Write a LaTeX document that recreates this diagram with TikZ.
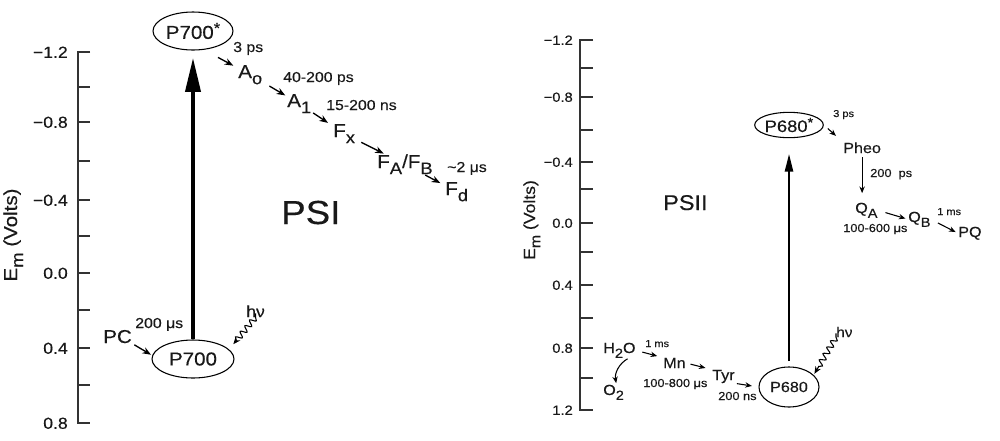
\documentclass[tikz,border=0pt]{standalone}
\usepackage{fontspec}
\setmainfont{Liberation Sans}[FakeStretch=1.1,FakeBold=0.3]
\usetikzlibrary{arrows.meta,shapes.geometric,decorations.pathmorphing}
\newcommand\dn[1]{\raisebox{-0.33em}{\scalebox{0.9}{#1}}}
\newcommand\upst{\raisebox{0.3em}{\scalebox{0.8}{*}}}
\begin{document}
\begin{tikzpicture}[x=0.75pt,y=-0.75pt,
  every node/.style={inner sep=0pt, text=black!90},
  ax/.style={line width=0.9pt, black!80},
  tl/.style={anchor=base east, font=\fontsize{12}{14}\selectfont},
  tr/.style={anchor=base east, font=\fontsize{10}{12}\selectfont},
  L/.style={anchor=base west, font=\fontsize{14}{16}\selectfont},
  Ls/.style={anchor=base west, font=\fontsize{10.8}{13}\selectfont},
  R/.style={anchor=base west, font=\fontsize{11}{13}\selectfont},
  Rs/.style={anchor=base west, font=\fontsize{8.7}{10}\selectfont},
  Rt/.style={anchor=base west, font=\fontsize{7.5}{9}\selectfont},
  ell/.style={draw, ellipse, line width=0.8pt},
  arL/.style={-{Stealth[length=6.5pt,width=5pt]}, line width=1pt},
  arR/.style={-{Stealth[length=5pt,width=4pt]}, line width=0.8pt},
  wavy/.style={-{Stealth[length=5.5pt,width=4.5pt]}, line width=0.8pt, decorate,
    decoration={snake, amplitude=2.2pt, segment length=5.5pt, post length=6pt}}
]
\fill[white] (0,0) rectangle (1000,440);
\useasboundingbox (0,0) rectangle (1000,440);

% ---------- left axis ----------
\draw[ax] (90,52) -- (78,52) -- (78,423) -- (90,423);
\foreach \y in {87,122,161,200,236,273,310,348,385} \draw[ax] (78,\y) -- (90,\y);
\foreach \v/\y/\n in {−1.2/52/a, −0.8/122/b, −0.4/200/c, 0.0/273/d, 0.4/348/e, 0.8/423/f}
  \node[tl] (ltick\n) at (68,\y+5.8) {\v};
\node[rotate=90, anchor=base, font=\fontsize{14}{16}\selectfont] (ylabL) at (17,235) {E\dn{m} (Volts)};

% ---------- PSI ----------
\node[ell, minimum width=60pt, minimum height=28.5pt, font=\fontsize{14}{16}\selectfont] (p700s) at (193,31) {P700\upst};
\node[ell, minimum width=61.5pt, minimum height=28.5pt, font=\fontsize{14}{16}\selectfont] (p700) at (193,359) {P700};
\draw[line width=3.5pt, -{Triangle[length=26pt,width=11pt]}, shorten >=5pt] (p700.north) -- (p700s.south);

\node[Ls] (l1) at (233,52) {3 ps};
\node[L] (a0) at (238,78) {A\dn{o}};
\node[Ls] (l2) at (283,82) {40-200 ps};
\node[L] (a1) at (287,107) {A\dn{1}};
\node[Ls] (l3) at (326,110) {15-200 ns};
\node[L] (fx) at (333,137) {F\dn{x}};
\node[L] (fab) at (377,168) {F\dn{A}/F\dn{B}};
\node[Ls] (l4) at (447,172) {\textasciitilde2 μs};
\node[L] (fd) at (445,195) {F\dn{d}};
\node[L] (pc) at (103,343) {PC};
\node[Ls] (l5) at (135,328) {200 μs};
\node[anchor=base west, font=\fontsize{12}{14}\selectfont] (hv1) at (246,317) {hν};
\node[anchor=base west, font=\fontsize{25}{30}\selectfont] (psi) at (281,224) {PSI};

\draw[arL, shorten <=12pt, shorten >=4pt] (p700s.-60) -- (a0);
\draw[arL, shorten <=6pt, shorten >=1.5pt] (a0) -- (a1);
\draw[arL, shorten <=1.5pt, shorten >=4.5pt] (a1) -- (fx);
\draw[arL, shorten <=5pt, shorten >=1pt] (fx) -- (fab);
\draw[arL, shorten <=1pt, shorten >=4pt] (fab) -- (fd);
\draw[arL, shorten <=2pt, shorten >=1pt] (pc.south east) -- (p700.175);
\draw[wavy, shorten <=3pt, shorten >=5pt] (hv1.south) -- (p700.15);

% ---------- right axis ----------
\draw[ax] (593,40) -- (580,40) -- (580,410) -- (593,410);
\foreach \y in {68,97,130,162,189,223,252,285,318,348,378} \draw[ax] (580,\y) -- (593,\y);
\foreach \v/\y/\n in {−1.2/40/a, −0.8/97/b, −0.4/162/c, 0.0/223/d, 0.4/285/e, 0.8/348/f, 1.2/410/g}
  \node[tr] (rtick\n) at (573,\y+4.8) {\v};
\node[rotate=90, anchor=base, font=\fontsize{12}{14}\selectfont] (ylabR) at (535,220) {E\dn{m} (Volts)};

% ---------- PSII ----------
\node[ell, minimum width=47pt, minimum height=19pt, font=\fontsize{12.5}{14}\selectfont] (p680s) at (789,125) {P680\upst};
\node[ell, minimum width=45pt, minimum height=30pt, font=\fontsize{11}{13}\selectfont] (p680) at (789,387) {P680};
\draw[line width=1.8pt, -{Triangle[length=13.5pt,width=6pt]}, shorten <=4pt, shorten >=11.6pt] (p680.north) -- (p680s.south);

\node[Rt] (r1) at (833,117) {3 ps};
\node[R] (pheo) at (843,153) {Pheo};
\node[Rs] (r2) at (870,177) {200\ \ ps};
\node[R] (qa) at (855,213) {Q\dn{A}};
\node[R] (qb) at (908,222) {Q\dn{B}};
\node[Rt] (r3) at (937,215) {1 ms};
\node[R] (pq) at (958,237) {PQ};
\node[Rs] (r4) at (843,232) {100-600 μs};
\node[R] (h2o) at (603,353) {H\dn{2}O};
\node[Rt] (r5) at (645,347) {1 ms};
\node[R] (mn) at (663,368) {Mn};
\node[R] (tyr) at (712,380) {Tyr};
\node[Rs] (r6) at (643,387) {100-800 μs};
\node[Rs] (r7) at (718,400) {200 ns};
\node[R] (o2) at (603,395) {O\dn{2}};
\node[anchor=base west, font=\fontsize{10.5}{12}\selectfont] (hv2) at (836,337) {hν};
\node[anchor=base west, font=\fontsize{16}{19}\selectfont] (psii) at (663,210) {PSII};

\draw[arR, shorten <=4pt, shorten >=7pt] (p680s.east) -- (pheo.north west);
\draw[arR, shorten <=3pt, shorten >=7pt] (pheo.south) -- (pheo.south |- qa.north);
\draw[arR, shorten <=6pt, shorten >=2pt] (qa.east) -- (qb.west);
\draw[arR, shorten <=6pt, shorten >=2pt] (qb.east) -- (pq.west);
\draw[arR, shorten <=5pt, shorten >=4.5pt] (h2o.east) -- (mn.north west);
\draw[arR, shorten <=3.5pt, shorten >=5pt] (mn.east) -- (tyr.north west);
\draw[arR, shorten <=1.5pt, shorten >=5pt] (tyr.south east) -- (p680.west);
\draw[arR, shorten <=1pt, shorten >=1pt] (h2o.-40) to[bend right=35] (o2.70);
\draw[wavy, shorten <=3pt, shorten >=1pt] (hv2.south west) -- (p680.26);
\end{tikzpicture}
\end{document}
